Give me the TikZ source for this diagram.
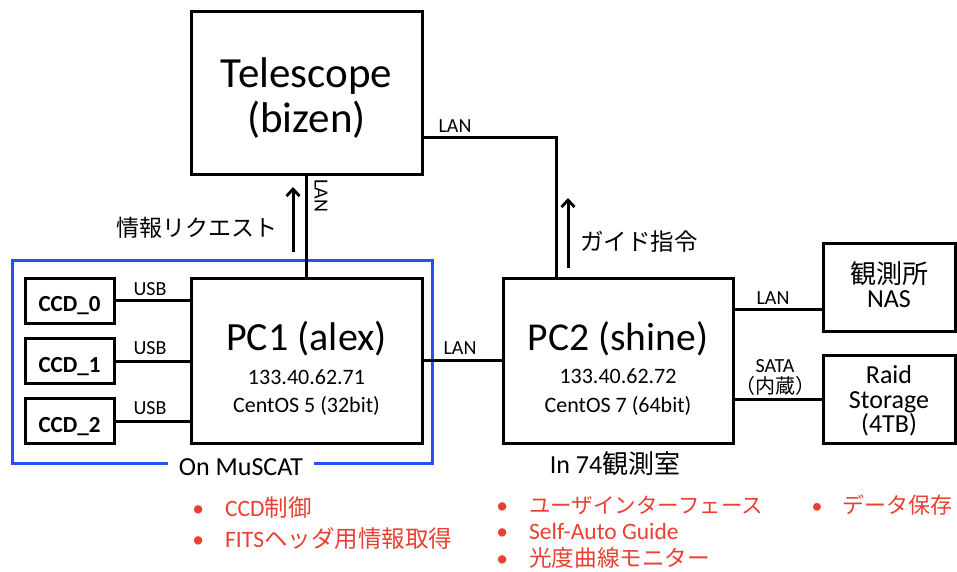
\documentclass[tikz,border=0pt]{standalone}
\usepackage{fontspec}
\setmainfont{Carlito}
\newfontfamily\jpf{Noto Sans CJK JP}
\usetikzlibrary{arrows.meta}
\definecolor{myred}{RGB}{232,64,50}
\definecolor{myblue}{RGB}{40,80,245}
\newcommand\J[1]{{\jpf #1}}
\newcommand\fs[1]{\fontsize{#1}{#1}\selectfont}
\begin{document}
\begin{tikzpicture}[x=1pt,y=-1pt,
  box/.style={draw, line width=3pt, inner sep=0pt},
  conn/.style={line width=3pt},
  arr/.style={line width=3pt, -{Straight Barb[length=7pt,width=13pt,line width=2.8pt]}},
  txt/.style={inner sep=0pt, anchor=base},
  redl/.style={inner sep=0pt, anchor=base west, text=myred, font=\fs{23.5}},
  ccd/.style={box, minimum width=89pt, minimum height=45pt}]
\useasboundingbox (0,0) rectangle (957,572);

% boxes
\node[box, minimum width=231pt, minimum height=162pt] (tel) at (306.5,93) {};
\node[box, minimum width=231pt, minimum height=165pt] (pc1) at (306.5,360.5) {};
\node[box, minimum width=230pt, minimum height=165pt] (pc2) at (618,360.5) {};
\node[box, minimum width=132pt, minimum height=88pt] (nas) at (889,287) {};
\node[box, minimum width=132pt, minimum height=88pt] (raid) at (889,399) {};
\node[ccd] (ccd0) at (69.5,300.5) {};
\node[ccd] (ccd1) at (69.5,361) {};
\node[ccd] (ccd2) at (69.5,421) {};

% blue frame
\draw[myblue, line width=3pt] (12,260) rectangle (432,463);
\node[txt, fill=white, inner xsep=11pt, inner ysep=2pt, font=\fs{26}] (musc) at (241,475) {On MuSCAT};

% box texts
\node[txt, font=\fs{43}] (telt1) at (306.5,88) {Telescope};
\node[txt, font=\fs{43}] (telt2) at (306.5,133) {(bizen)};
\node[txt, font=\fs{40}] (pc1t1) at (306.5,350) {PC1 (alex)};
\node[txt, font=\fs{22}] (pc1t2) at (306.5,384) {133.40.62.71};
\node[txt, font=\fs{22}] (pc1t3) at (306.5,412) {CentOS 5 (32bit)};
\node[txt, font=\fs{39.5}] (pc2t1) at (618,350) {PC2 (shine)};
\node[txt, font=\fs{22}] (pc2t2) at (618,383) {133.40.62.72};
\node[txt, font=\fs{22}] (pc2t3) at (618,412) {CentOS 7 (64bit)};
\node[txt, font=\fs{26}] (nast1) at (889,283) {\J{観測所}};
\node[txt, font=\fs{26}] (nast2) at (889,307) {NAS};
\node[txt, font=\fs{26}] (raidt1) at (889,383) {Raid};
\node[txt, font=\fs{26}] (raidt2) at (889,408) {Storage};
\node[txt, font=\fs{26}] (raidt3) at (889,432) {(4TB)};
\node[txt, font=\bfseries\fs{23}] (ccd0t) at (69.5,311) {CCD\_0};
\node[txt, font=\bfseries\fs{23}] (ccd1t) at (69.5,372) {CCD\_1};
\node[txt, font=\bfseries\fs{23}] (ccd2t) at (69.5,432) {CCD\_2};
\node[txt, font=\fs{26}] (room) at (615,473) {In 74\J{観測室}};

% connectors
\coordinate (c1) at (556,138);
\coordinate (c2) at (780,309);
\draw[conn] (tel.south) -- (pc1.north);
\draw[conn] (tel.east |- c1) -- (c1) -- (c1 |- pc2.north);
\draw[conn] (pc1.east) -- (pc2.west);
\draw[conn] (pc2.east |- c2) -- (nas.west |- c2);
\draw[conn] (raid.west -| pc2.east) -- (raid.west);
\draw[conn] (ccd0.east) -- (ccd0.east -| pc1.west);
\draw[conn] (ccd1.east) -- (ccd1.east -| pc1.west);
\draw[conn] (ccd2.east) -- (ccd2.east -| pc1.west);

% connector labels
\node[txt, font=\fs{20}] (usb0) at (150,295) {USB};
\node[txt, font=\fs{20}] (usb1) at (150,354) {USB};
\node[txt, font=\fs{20}] (usb2) at (150,414) {USB};
\node[txt, font=\fs{20}] (lan1) at (455,133) {LAN};
\node[txt, font=\fs{20}] (lan2) at (460,354) {LAN};
\node[txt, font=\fs{20}] (lan3) at (773,304) {LAN};
\node[inner sep=0pt, rotate=-90, font=\fs{20}] (lanv) at (321,196) {LAN};
\node[txt, font=\fs{20}] (sata1) at (775,372) {SATA};
\node[txt, font=\fs{20}] (sata2) at (775,393) {\J{（内蔵）}};

% arrows
\coordinate (a1s) at (293,252);
\coordinate (a1e) at (293,187);
\coordinate (a2s) at (568,268);
\coordinate (a2e) at (568,198);
\draw[arr] (a1s) -- (a1e);
\draw[arr] (a2s) -- (a2e);
\node[inner sep=0pt, font=\fs{23}] (req) at (197,228) {\J{情報リクエスト}};
\node[inner sep=0pt, font=\fs{23.5}] (guide) at (639,242) {\J{ガイド指令}};

% red bullet lists
\node[redl] (r1) at (198,516) {\makebox[0pt][c]{•}\hspace{27pt}CCD\J{制御}};
\node[redl] (r2) at (198,547) {\makebox[0pt][c]{•}\hspace{27pt}FITS\J{ヘッダ用情報取得}};
\node[redl] (r3) at (502,513) {\makebox[0pt][c]{•}\hspace{27pt}{\fs{21.5}\J{ユーザインターフェース}}};
\node[redl] (r4) at (502,539) {\makebox[0pt][c]{•}\hspace{27pt}Self-Auto Guide};
\node[redl] (r5) at (502,566) {\makebox[0pt][c]{•}\hspace{27pt}{\fs{22.6}\J{光度曲線モニター}}};
\node[redl, font=\fs{22}] (r6) at (817,513) {\makebox[0pt][c]{•}\hspace{25pt}\J{データ保存}};
\end{tikzpicture}
\end{document}
